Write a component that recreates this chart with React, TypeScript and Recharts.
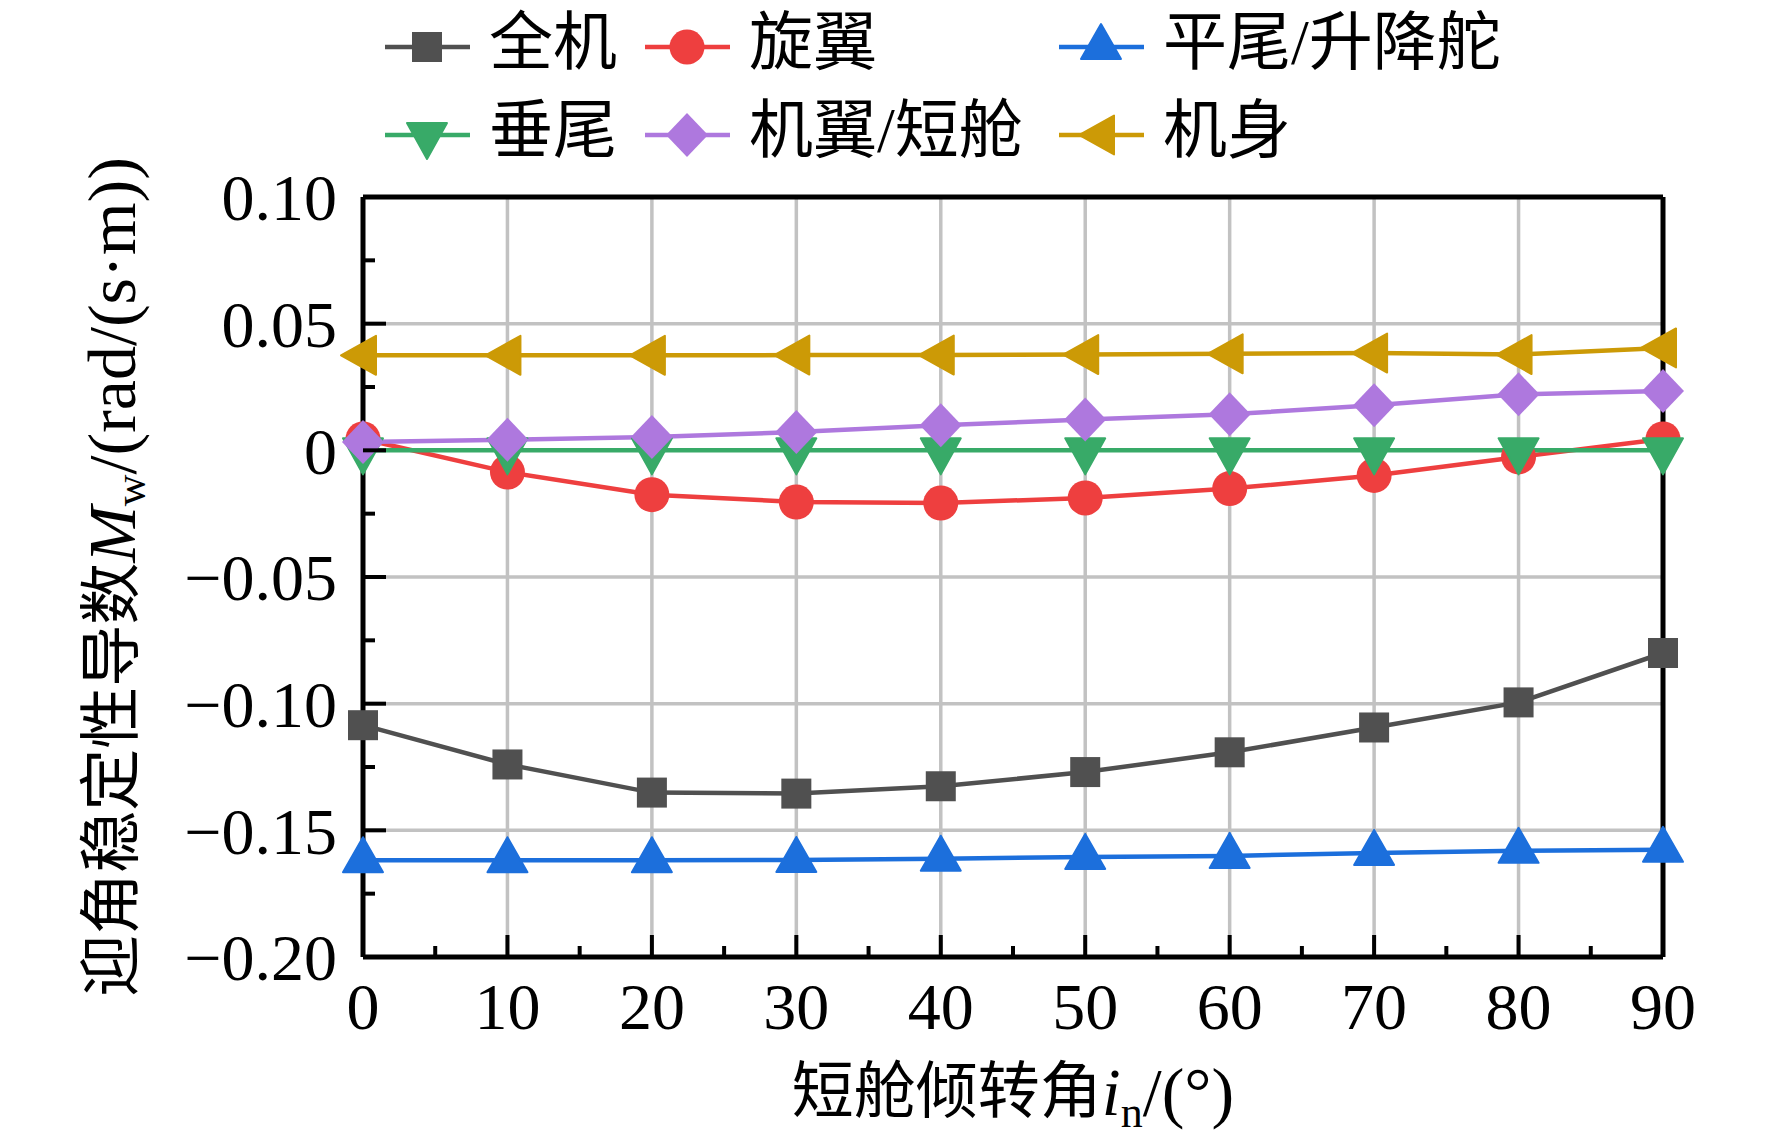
import React from 'react';
import { LineChart, Line, XAxis, YAxis, ReferenceLine, Legend } from 'recharts';

// ---------- data ----------
const angles = [0, 10, 20, 30, 40, 50, 60, 70, 80, 90];
const quanJi = [-0.1085, -0.124, -0.1351, -0.1355, -0.1326, -0.127, -0.1192, -0.1094, -0.0995, -0.08];
const xuanYi = [0.0045, -0.0086, -0.0175, -0.0204, -0.0208, -0.0188, -0.0151, -0.0099, -0.0026, 0.0045];
const pingWei = [-0.1618, -0.1618, -0.1618, -0.1617, -0.1612, -0.1605, -0.1601, -0.1589, -0.1581, -0.1577];
const chuiWei = [0, 0, 0, 0, 0, 0, 0, 0, 0, 0];
const jiYi = [0.0033, 0.0042, 0.0053, 0.0072, 0.0099, 0.0122, 0.0142, 0.0178, 0.0221, 0.0234];
const jiShen = [0.0375, 0.0375, 0.0375, 0.0376, 0.0376, 0.0378, 0.0381, 0.0384, 0.0378, 0.0404];

const xTicks = [0, 5, 10, 15, 20, 25, 30, 35, 40, 45, 50, 55, 60, 65, 70, 75, 80, 85, 90];
const xGrid = [10, 20, 30, 40, 50, 60, 70, 80];
const yTicks = [-0.2, -0.175, -0.15, -0.125, -0.1, -0.075, -0.05, -0.025, 0, 0.025, 0.05, 0.075, 0.1];
const yGrid = [-0.15, -0.1, -0.05, 0, 0.05];
const xDomain = [0, 90];
const yDomain = [-0.2, 0.1];

type Shape = 'square' | 'circle' | 'up' | 'down' | 'diamond' | 'left';
const series: { key: string; name: string; color: string; shape: Shape; values: number[] }[] = [
  { key: 'quanji', name: '全机', color: '#505050', shape: 'square', values: quanJi },
  { key: 'xuanyi', name: '旋翼', color: '#EE3F3F', shape: 'circle', values: xuanYi },
  { key: 'pingwei', name: '平尾/升降舵', color: '#1C6FDC', shape: 'up', values: pingWei },
  { key: 'chuiwei', name: '垂尾', color: '#38AA68', shape: 'down', values: chuiWei },
  { key: 'jiyi', name: '机翼/短舱', color: '#AE78DE', shape: 'diamond', values: jiYi },
  { key: 'jishen', name: '机身', color: '#CC9A06', shape: 'left', values: jiShen },
];

const data = angles.map((a, i) => {
  const row: Record<string, number> = { angle: a };
  series.forEach((s) => {
    row[s.key] = s.values[i];
  });
  return row;
});

// ---------- styling ----------
const FONT = "'Liberation Serif', 'Times New Roman', 'Noto Sans CJK SC', serif";
const TICK_FONT = 66;
const X_TICK_MARGIN = 25;
const Y_TICK_MARGIN = 26;
const AXIS_W = 5;
const LINE_W = 4.5;

function Marker({ shape, cx, cy, color }: { shape: Shape; cx: number; cy: number; color: string }) {
  if (cx == null || cy == null || isNaN(cx) || isNaN(cy)) return null;
  const common = { fill: color, stroke: color, strokeWidth: 2, strokeLinejoin: 'round' as const };
  switch (shape) {
    case 'square':
      return <rect x={cx - 15} y={cy - 15} width={30} height={30} fill={color} />;
    case 'circle':
      return <circle cx={cx} cy={cy} r={17.5} fill={color} />;
    case 'up':
      return <polygon points={`${cx},${cy - 23} ${cx + 20},${cy + 12} ${cx - 20},${cy + 12}`} {...common} />;
    case 'down':
      return <polygon points={`${cx},${cy + 24} ${cx + 20},${cy - 12} ${cx - 20},${cy - 12}`} {...common} />;
    case 'diamond':
      return <polygon points={`${cx},${cy - 22} ${cx + 21},${cy} ${cx},${cy + 22} ${cx - 21},${cy}`} fill={color} />;
    case 'left':
      return <polygon points={`${cx - 22},${cy} ${cx + 13},${cy - 19.5} ${cx + 13},${cy + 19.5}`} {...common} />;
  }
  return null;
}

function fmtY(v: number) {
  if (Math.abs(v) < 1e-9) return '0';
  return (v < 0 ? '\u2212' : '') + Math.abs(v).toFixed(2);
}

const XTick = (props: any) => {
  const { x, y, payload } = props;
  const v = payload.value as number;
  const major = Math.abs(v % 10) < 1e-9;
  const axisY = y - X_TICK_MARGIN;
  return (
    <g>
      <line x1={x} x2={x} y1={axisY} y2={axisY - (major ? 22 : 11)} stroke="#000" strokeWidth={4} />
      {major && (
        <text x={x} y={y} dy="0.71em" textAnchor="middle" fontFamily={FONT} fontSize={TICK_FONT} fill="#000">
          {v}
        </text>
      )}
    </g>
  );
};

const YTick = (props: any) => {
  const { x, y, payload } = props;
  const v = payload.value as number;
  const major = Math.abs(Math.round(v * 1000) % 50) === 0;
  const axisX = x + Y_TICK_MARGIN;
  return (
    <g>
      <line x1={axisX} x2={axisX + (major ? 23 : 12)} y1={y} y2={y} stroke="#000" strokeWidth={4} />
      {major && (
        <text x={x} y={y} dy="0.355em" textAnchor="end" fontFamily={FONT} fontSize={TICK_FONT} fill="#000">
          {fmtY(v)}
        </text>
      )}
    </g>
  );
};

const YTitle = (props: any) => {
  const vb = props.viewBox || { x: 0, y: 197, width: 363, height: 760 };
  const cy = vb.y + vb.height / 2;
  const cx = 112;
  return (
    <text
      transform={`translate(${cx}, ${cy}) rotate(-90)`}
      textAnchor="middle"
      dominantBaseline="central"
      fontFamily={FONT}
      fontSize={62}
      fill="#000"
    >
      迎角稳定性导数
      <tspan fontStyle="italic" fontSize={68}>M</tspan>
      <tspan fontSize={44} dy={18}>w</tspan>
      <tspan fontSize={68} dy={-18}>/(rad/(s·m))</tspan>
    </text>
  );
};

const XTitle = (props: any) => {
  const vb = props.viewBox || { x: 363, y: 957, width: 1300, height: 191 };
  const cx = vb.x + vb.width / 2;
  const cy = vb.y + 135;
  return (
    <text x={cx} y={cy} textAnchor="middle" dominantBaseline="central" fontFamily={FONT} fontSize={62} fill="#000">
      短舱倾转角
      <tspan fontStyle="italic" fontSize={68}>i</tspan>
      <tspan fontSize={44} dy={20}>n</tspan>
      <tspan fontSize={68} dy={-20}>/(°)</tspan>
    </text>
  );
};

// legend layout: 3 columns x 2 rows
const legendColX = [385, 645, 1059];
const legendRowY = [47, 135];

const LegendContent = () => (
  <svg width={1772} height={180} style={{ display: 'block' }}>
    {series.map((s, i) => {
      const col = i % 3;
      const row = Math.floor(i / 3);
      const x0 = legendColX[col];
      const y0 = legendRowY[row];
      return (
        <g key={s.key}>
          <line x1={x0} x2={x0 + 85} y1={y0} y2={y0} stroke={s.color} strokeWidth={LINE_W} />
          <Marker shape={s.shape} cx={x0 + 42} cy={y0} color={s.color} />
          <text
            x={x0 + 104}
            y={y0 - 5}
            dominantBaseline="central"
            fontFamily={FONT}
            fontSize={64}
            fill="#000"
          >
            {s.name}
          </text>
        </g>
      );
    })}
  </svg>
);

export default function App() {
  return (
    <div style={{ position: 'absolute', left: 0, top: 0, width: 1772, height: 1148, background: '#fff' }}>
      <LineChart width={1772} height={1148} data={data} margin={{ top: 197, right: 109, bottom: 0, left: 0 }}>
        {xGrid.map((v) => (
          <ReferenceLine key={`gx${v}`} x={v} stroke="#c2c2c2" strokeWidth={3.5} />
        ))}
        {yGrid.map((v) => (
          <ReferenceLine key={`gy${v}`} y={v} stroke="#c2c2c2" strokeWidth={3.5} />
        ))}
        <ReferenceLine key="frame-top" y={yDomain[1]} stroke="#000" strokeWidth={AXIS_W} />
        <ReferenceLine key="frame-right" x={xDomain[1]} stroke="#000" strokeWidth={AXIS_W} />
        <XAxis
          dataKey="angle"
          type="number"
          domain={xDomain}
          ticks={xTicks}
          interval={0}
          tickLine={false}
          tickSize={0}
          tickMargin={X_TICK_MARGIN}
          tick={<XTick />}
          axisLine={{ stroke: '#000', strokeWidth: AXIS_W }}
          height={191}
          label={{ content: <XTitle /> }}
        />
        <YAxis
          type="number"
          domain={yDomain}
          ticks={yTicks}
          interval={0}
          tickLine={false}
          tickSize={0}
          tickMargin={Y_TICK_MARGIN}
          tick={<YTick />}
          axisLine={{ stroke: '#000', strokeWidth: AXIS_W }}
          width={363}
          allowDataOverflow
          label={{ content: <YTitle /> }}
        />
        <Legend
          layout="vertical"
          align="center"
          verticalAlign="middle"
          wrapperStyle={{ top: 0, left: 0, width: 1772, height: 180 }}
          content={() => <LegendContent />}
        />
        {series.map((s) => (
          <Line
            key={s.key}
            type="linear"
            dataKey={s.key}
            name={s.name}
            stroke={s.color}
            strokeWidth={LINE_W}
            isAnimationActive={false}
            activeDot={false}
            dot={(p: any) => <Marker key={`${s.key}-${p.index}`} shape={s.shape} cx={p.cx} cy={p.cy} color={s.color} />}
          />
        ))}
      </LineChart>
    </div>
  );
}
